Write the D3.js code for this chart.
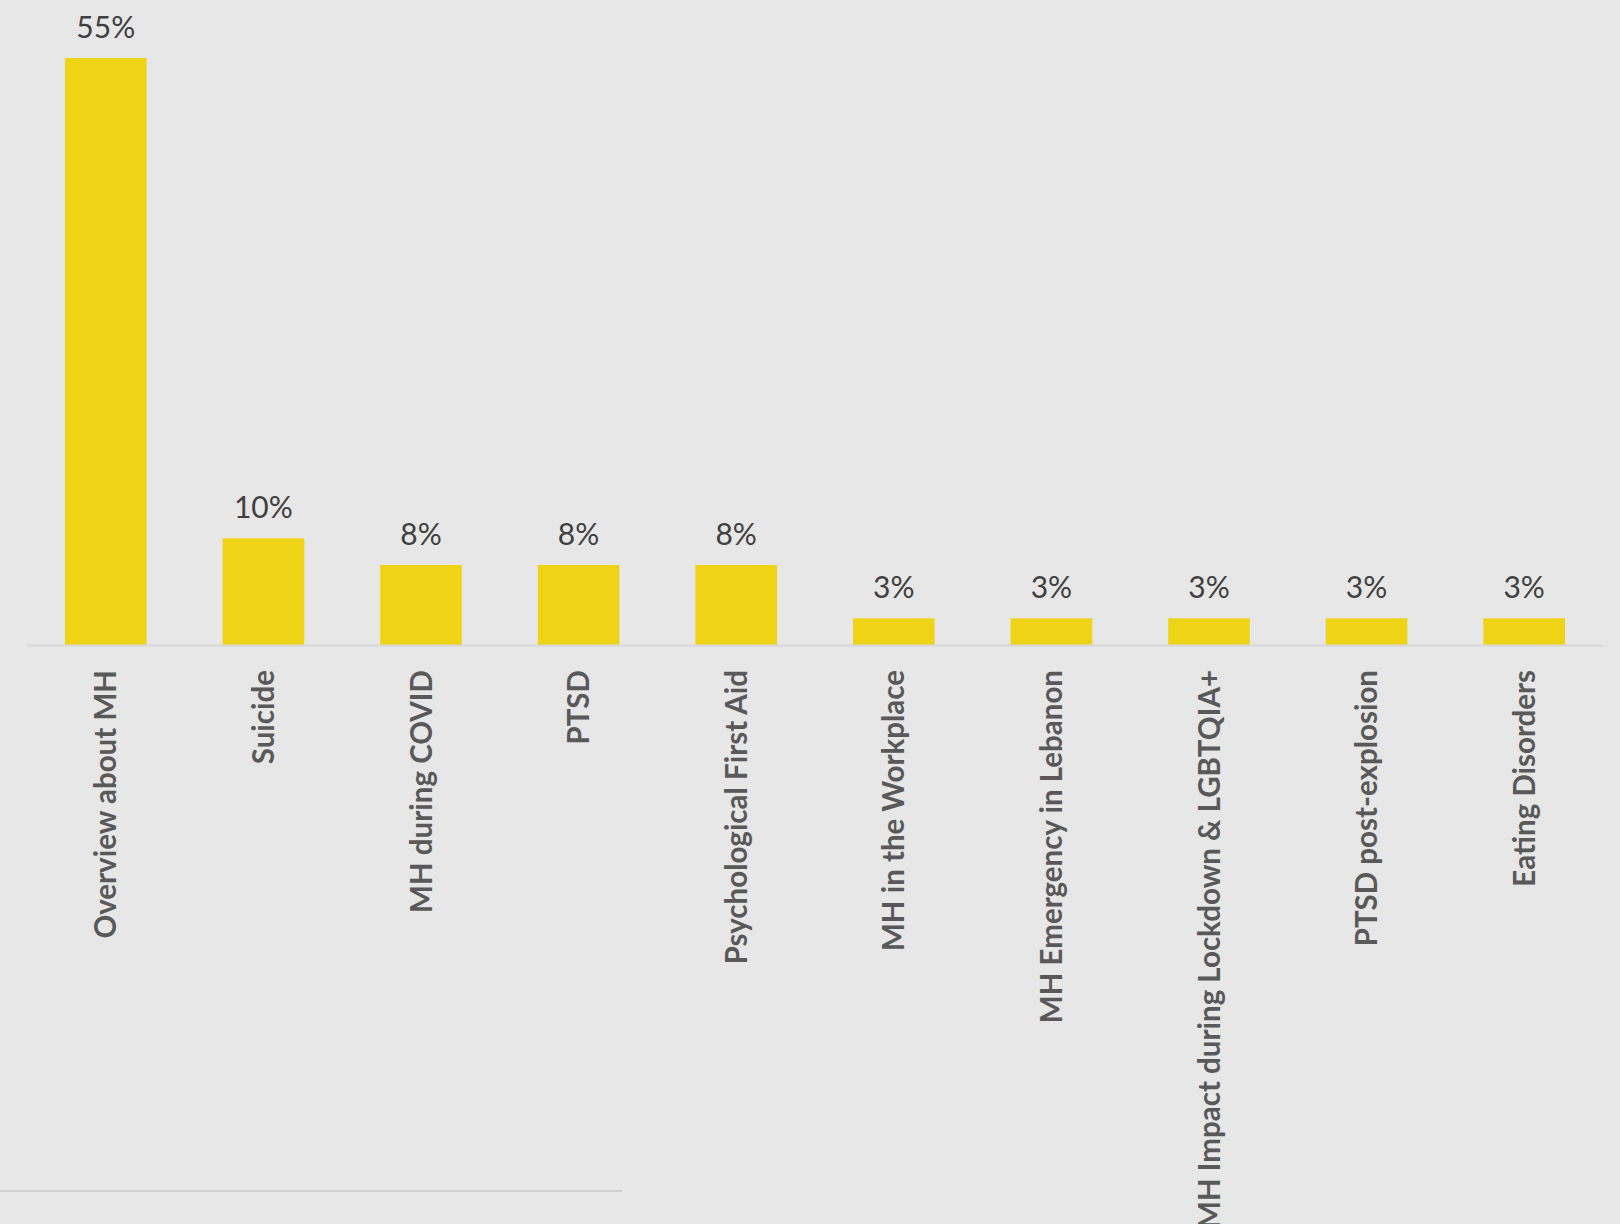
<!DOCTYPE html>
<html>
<head>
<meta charset="utf-8">
<script src="https://cdn.jsdelivr.net/npm/d3@7"></script>
<style>
  html, body { margin: 0; padding: 0; background: #e7e7e7; }
  svg { display: block; }
</style>
</head>
<body>
<svg id="chart" width="1620" height="1224"></svg>
<script>
const categories = [
  "Overview about MH",
  "Suicide",
  "MH during COVID",
  "PTSD",
  "Psychological First Aid",
  "MH in the Workplace",
  "MH Emergency in Lebanon",
  "MH Impact during Lockdown & LGBTQIA+",
  "PTSD post-explosion",
  "Eating Disorders"
];
const values = [0.55, 0.10, 0.075, 0.075, 0.075, 0.025, 0.025, 0.025, 0.025, 0.025];
const valueLabels = ["55%", "10%", "8%", "8%", "8%", "3%", "3%", "3%", "3%", "3%"];

const W = 1620, H = 1224;
const svg = d3.select("#chart");

svg.append("rect").attr("width", W).attr("height", H).attr("fill", "#e7e7e7");

const x = d3.scaleBand()
  .domain(categories)
  .range([27, 1603])
  .paddingInner(0.482)
  .paddingOuter(0.241);

const y = d3.scaleLinear()
  .domain([0, 0.55])
  .range([645, 58]);

const data = categories.map((c, i) => ({ c, v: values[i], l: valueLabels[i] }));

// bars
svg.append("g").selectAll("rect")
  .data(data)
  .join("rect")
  .attr("x", d => x(d.c))
  .attr("y", d => y(d.v))
  .attr("width", x.bandwidth())
  .attr("height", d => y(0) - y(d.v))
  .attr("fill", "#efd316");

// axis line
const axis = svg.append("g")
  .attr("transform", `translate(0,${y(0)})`)
  .call(d3.axisBottom(x).tickSize(0).tickFormat(""));
axis.select(".domain").attr("stroke", "#d8d8d8").attr("stroke-width", 2);

// value labels
svg.append("g").selectAll("text")
  .data(data)
  .join("text")
  .attr("x", d => x(d.c) + x.bandwidth() / 2)
  .attr("y", d => y(d.v) - 20)
  .attr("text-anchor", "middle")
  .attr("font-family", "Lato, 'Open Sans', sans-serif")
  .attr("font-size", 30)
  .attr("fill", "#404040")
  .text(d => d.l);

// category labels (rotated)
svg.append("g").selectAll("text")
  .data(data)
  .join("text")
  .attr("transform", d => `translate(${x(d.c) + x.bandwidth() / 2},670) rotate(-90)`)
  .attr("dy", "0.36em")
  .attr("text-anchor", "end")
  .attr("font-family", "Lato, 'Open Sans', sans-serif")
  .attr("font-weight", "bold")
  .attr("font-size", 29.5)
  .attr("fill", "#595959")
  .text(d => d.c);

// bottom border fragment
svg.append("line")
  .attr("x1", 0).attr("x2", 622)
  .attr("y1", 1191).attr("y2", 1191)
  .attr("stroke", "#d0d0d0")
  .attr("stroke-width", 2);
</script>
</body>
</html>
